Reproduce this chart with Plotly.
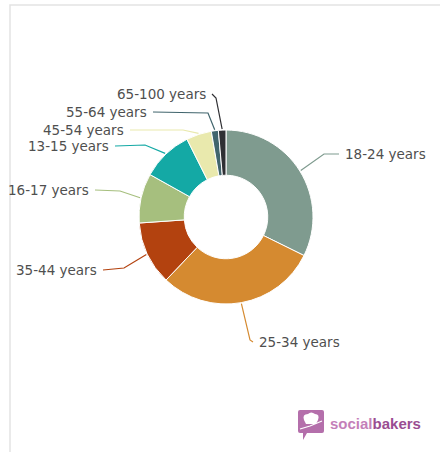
import math
import plotly.graph_objects as go

# Audience by age group (share of fans, %)
age_groups = ["18-24 years", "25-34 years", "35-44 years", "16-17 years",
              "13-15 years", "45-54 years", "55-64 years", "65-100 years"]
shares = [32.3, 29.8, 11.8, 9.2, 9.5, 4.7, 1.3, 1.4]
colors = ["#7f9b8f", "#d58a30", "#b3420f", "#a6bf7e",
          "#14a9a5", "#e9e9ad", "#41656d", "#2f2f33"]

W, H = 440, 452
CX, CY, R = 226, 217, 87          # donut centre / outer radius in px
HOLE = 0.48

# label placement: (x, y, anchor side, elbow x, elbow y)
label_pos = {
    "18-24 years": (343, 154, "left", 324, 154),
    "25-34 years": (257, 342, "left", 250, 340),
    "35-44 years": (99, 270, "right", 124, 268),
    "16-17 years": (91, 190, "right", 120, 191),
    "13-15 years": (111, 146, "right", 145, 145),
    "45-54 years": (126, 130, "right", 183, 130),
    "55-64 years": (149, 112, "right", 208, 113),
    "65-100 years": (208, 94, "right", 216, 98),
}

fig = go.Figure()
fig.add_trace(go.Pie(
    labels=age_groups, values=shares, sort=False, direction="clockwise",
    rotation=0, hole=HOLE, textinfo="none", hoverinfo="label+percent",
    marker=dict(colors=colors, line=dict(color="white", width=1)),
    domain=dict(x=[(CX - R) / W, (CX + R) / W],
                y=[1 - (CY + R) / H, 1 - (CY - R) / H]),
    showlegend=False,
))

# connector lines from each slice midpoint to its label
total = sum(shares)
cum = 0.0
for name, v, c in zip(age_groups, shares, colors):
    mid = (cum + v / 2) / total * 2 * math.pi
    cum += v
    ax = CX + (R + 1) * math.sin(mid)
    ay = CY - (R + 1) * math.cos(mid)
    lx, ly, side, ex, ey = label_pos[name]
    sx = lx - 4 if side == "left" else lx + 4
    fig.add_trace(go.Scatter(
        x=[sx, ex, ax], y=[ly, ey, ay], mode="lines",
        line=dict(color=c, width=1.2),
        hoverinfo="skip", showlegend=False, xaxis="x", yaxis="y"))
    fig.add_annotation(x=lx, y=ly, xref="x", yref="y", text=name,
                       showarrow=False, xanchor=side, yanchor="middle",
                       font=dict(family="DejaVu Sans", size=13.5, color="#4f4f4f"))

# panel border
fig.add_shape(type="path", xref="x", yref="y",
              path=f"M 10 {H} L 10 5 L {W} 5",
              line=dict(color="#e3e3e3", width=1.5))

# brand mark
fig.add_shape(type="path", xref="x", yref="y",
              path="M 300 410 L 322 410 Q 324 410 324 412 L 324 431 Q 324 433 322 433 "
                   "L 307 433 L 303 440 L 303 433 L 300 433 Q 298 433 298 431 "
                   "L 298 412 Q 298 410 300 410 Z",
              fillcolor="#b46fab", line=dict(width=0))
fig.add_shape(type="path", xref="x", yref="y",
              path="M 304 420 Q 302 414 308 414 Q 311 411 315 414 Q 320 414 318 420 "
                   "L 316 424 L 306 424 Z",
              fillcolor="white", line=dict(width=0))
fig.add_shape(type="path", xref="x", yref="y",
              path="M 300 429 L 310 426 L 322 421",
              line=dict(color="white", width=1.2))
fig.add_annotation(x=328, y=423, xref="x", yref="y", showarrow=False,
                   xanchor="left", yanchor="middle",
                   text="<span style='color:#c47fb9'>social</span>"
                        "<span style='color:#9a4d92'>bakers</span>",
                   font=dict(family="Liberation Sans", size=15, weight="bold"))

fig.update_layout(
    width=W, height=H, margin=dict(l=0, r=0, t=0, b=0),
    paper_bgcolor="white", plot_bgcolor="rgba(0,0,0,0)",
    xaxis=dict(range=[0, W], visible=False, fixedrange=True, domain=[0, 1]),
    yaxis=dict(range=[H, 0], visible=False, fixedrange=True, domain=[0, 1]),
)

fig.write_html("out.html")
